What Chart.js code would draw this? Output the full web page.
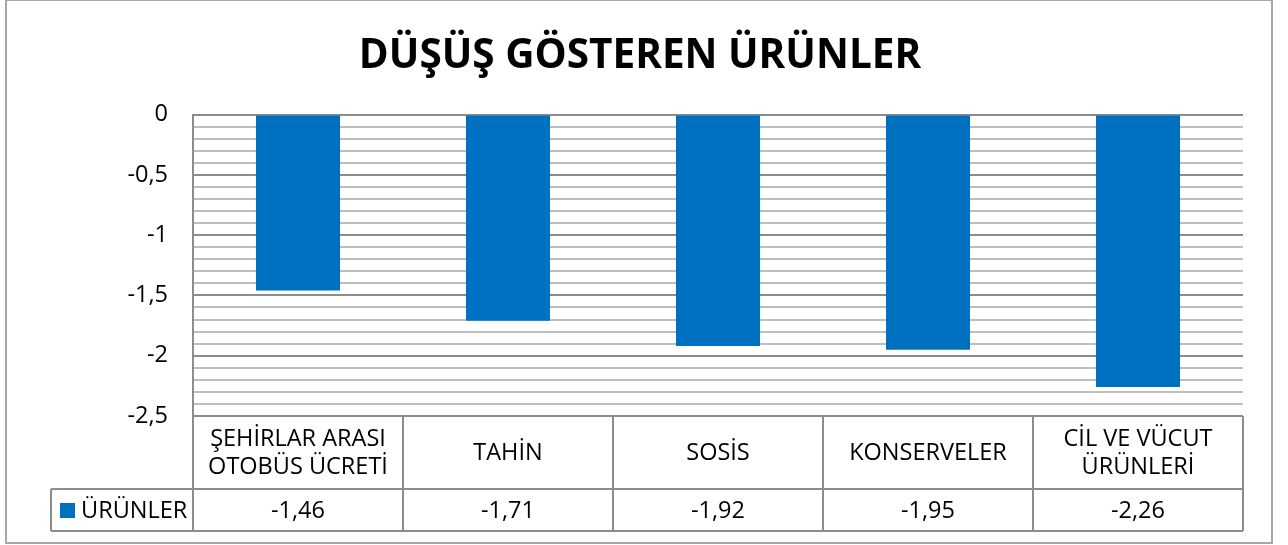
<!DOCTYPE html>
<html>
<head>
<meta charset="utf-8">
<script src="https://cdn.jsdelivr.net/npm/chart.js@4.4.0/dist/chart.umd.min.js"></script>
<style>
    html, body { margin: 0; padding: 0; background: #fff; }
    #wrap { width: 1288px; height: 545px; }
</style>
</head>
<body>
<div id="wrap"><canvas id="barChart" width="1288" height="545"></canvas></div>
<script>
const titleText = 'DÜŞÜŞ GÖSTEREN ÜRÜNLER';
const seriesName = 'ÜRÜNLER';
const categories = [
    ['ŞEHİRLAR ARASI', 'OTOBÜS ÜCRETİ'],
    'TAHİN',
    'SOSİS',
    'KONSERVELER',
    ['CİL VE VÜCUT', 'ÜRÜNLERİ']
];
const values = [-1.46, -1.71, -1.92, -1.95, -2.26];
const yTickValues = [0, -0.5, -1, -1.5, -2, -2.5];
const yTickLabels = ['0', '-0,5', '-1', '-1,5', '-2', '-2,5'];

const barColor = '#0070C0';
const fontFamily = '"Open Sans", "DejaVu Sans", sans-serif';

// table under the plot: category row + value row with legend key
const dataTable = {
    id: 'dataTable',
    afterDraw(chart) {
        const ctx = chart.ctx;
        const area = chart.chartArea;
        const x = chart.scales.x;
        const colW = x.width / categories.length;
        const row1Top = area.bottom;
        const row2Top = area.bottom + 73;
        const row2Bottom = row2Top + 42;
        const legendLeft = 51;

        ctx.save();
        ctx.strokeStyle = '#8c8c8c';
        ctx.lineWidth = 2;
        ctx.beginPath();
        ctx.moveTo(area.left, row1Top); ctx.lineTo(area.right, row1Top);
        ctx.moveTo(legendLeft, row2Top); ctx.lineTo(area.right, row2Top);
        ctx.moveTo(legendLeft, row2Bottom); ctx.lineTo(area.right, row2Bottom);
        ctx.moveTo(legendLeft, row2Top); ctx.lineTo(legendLeft, row2Bottom);
        for (let i = 0; i <= categories.length; i++) {
            const bx = x.left + i * colW;
            ctx.moveTo(bx, row1Top); ctx.lineTo(bx, row2Bottom);
        }
        ctx.stroke();

        ctx.fillStyle = '#000';
        ctx.font = '23.5px ' + fontFamily;
        ctx.textAlign = 'center';
        ctx.textBaseline = 'middle';
        categories.forEach((cat, i) => {
            const cx = x.getPixelForValue(i);
            const lines = Array.isArray(cat) ? cat : [cat];
            const mid = (row1Top + row2Top) / 2 + 1;
            lines.forEach((line, j) => {
                const ly = mid + (j - (lines.length - 1) / 2) * 28;
                ctx.fillText(line, cx, ly);
            });
            ctx.fillText(values[i].toFixed(2).replace('.', ','), cx, (row2Top + row2Bottom) / 2 + 1);
        });

        ctx.fillStyle = barColor;
        ctx.fillRect(60, (row2Top + row2Bottom) / 2 - 7, 15, 15);
        ctx.fillStyle = '#000';
        ctx.textAlign = 'left';
        ctx.fillText(seriesName, 81, (row2Top + row2Bottom) / 2 + 1);

        // outer chart border
        ctx.strokeStyle = '#a6a6a6';
        ctx.lineWidth = 2;
        ctx.strokeRect(6, 0, 1266, 543);
        ctx.restore();
    }
};

const whiteBg = {
    id: 'whiteBg',
    beforeDraw(chart) {
        const ctx = chart.ctx;
        ctx.save();
        ctx.fillStyle = '#fff';
        ctx.fillRect(0, 0, chart.width, chart.height);
        ctx.restore();
    }
};

const isMajor = v => Math.abs(v * 2 - Math.round(v * 2)) < 1e-6;

new Chart(document.getElementById('barChart').getContext('2d'), {
    type: 'bar',
    data: {
        labels: categories,
        datasets: [{
            label: seriesName,
            data: values,
            backgroundColor: barColor,
            barPercentage: 0.4,
            categoryPercentage: 1
        }]
    },
    options: {
        responsive: false,
        animation: false,
        layout: { padding: { left: 37, right: 45, top: 0, bottom: 129 } },
        plugins: {
            legend: { display: false },
            tooltip: { enabled: false },
            title: {
                display: true,
                text: titleText,
                color: '#000',
                font: { family: fontFamily, size: 40.5, weight: 'bold' },
                padding: { top: 32, bottom: 34 }
            }
        },
        scales: {
            x: { display: false },
            y: {
                min: -2.5,
                max: 0,
                afterFit(scale) { scale.width = 156; },
                afterBuildTicks(scale) {
                    const ticks = [];
                    for (let i = 0; i <= 25; i++) ticks.push({ value: -i / 10 });
                    scale.ticks = ticks;
                },
                ticks: {
                    color: '#000',
                    padding: 25,
                    font: { family: fontFamily, size: 23.5 },
                    autoSkip: false,
                    callback(value) {
                        const k = yTickValues.findIndex(t => Math.abs(t - value) < 1e-6);
                        return k >= 0 ? yTickLabels[k] : '';
                    }
                },
                grid: {
                    drawTicks: false,
                    color: ctx => isMajor(ctx.tick.value) ? '#8c8c8c' : '#bdbdbd',
                    lineWidth: 2
                },
                border: { display: true, color: '#8c8c8c', width: 2 }
            }
        }
    },
    plugins: [whiteBg, dataTable]
});
</script>
</body>
</html>
